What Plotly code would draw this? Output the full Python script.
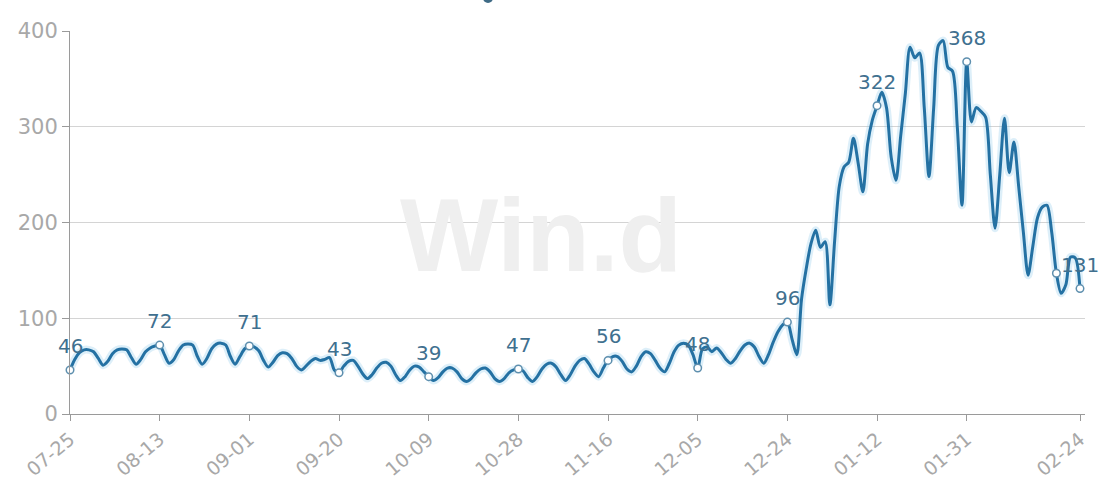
import pandas as pd
import plotly.graph_objects as go

# ---- data ----
dates = list(pd.date_range("2022-07-25", "2023-02-24", freq="D").strftime("%m-%d"))

values = [
    46, 57, 64, 67, 67, 65, 58,
    51, 55, 63, 67, 68, 67, 59,
    52, 57, 65, 69, 71, 72, 62,
    53, 57, 66, 72, 73, 72, 60,
    52, 58, 68, 73, 74, 72, 60,
    52, 60, 68, 71, 70, 66, 56,
    49, 54, 61, 64, 63, 58, 50,
    46, 50, 55, 58, 56, 57, 59,
    46, 43, 50, 55, 56, 50, 42,
    37, 41, 48, 53, 54, 50, 41,
    35, 39, 46, 50, 49, 44, 39,
    35, 38, 44, 48, 48, 44, 37,
    34, 37, 43, 47, 48, 44, 37,
    34, 37, 43, 46, 47, 45, 38,
    34, 39, 47, 52, 53, 49, 41,
    35, 41, 50, 56, 58, 52, 44,
    39, 48, 56, 60, 60, 55, 47,
    44, 50, 60, 65, 63, 56, 48,
    44, 53, 65, 72, 74, 72, 62,
    48, 68, 70, 65, 69, 64, 57,
    53, 58, 66, 72, 74, 70, 60,
    53, 62, 75, 86, 93, 96, 78,
    62, 120, 152, 178, 192, 174, 180,
    114, 180, 238, 258, 263, 288, 262,
    232, 282, 307, 322, 336, 320, 268,
    244, 290, 335, 383, 372, 377, 320,
    248, 320, 385, 390, 362, 358, 300,
    218, 368, 305, 320, 316, 310, 250,
    194, 250, 309, 252, 284, 238, 190,
    145, 175, 205, 216, 218, 190, 147,
    126, 135, 164, 163, 131,
]

tick_labels = ["07-25", "08-13", "09-01", "09-20", "10-09", "10-28",
               "11-16", "12-05", "12-24", "01-12", "01-31", "02-24"]
marked_dates = ["07-25", "08-13", "09-01", "09-20", "10-09", "10-28", "11-16",
                "12-05", "12-24", "01-12", "01-31", "02-19", "02-24"]
marked_labels = ["46", "72", "71", "43", "39", "47", "56",
                 "48", "96", "322", "368", "", "131"]
y_ticks = [0, 100, 200, 300, 400]

value_by_date = dict(zip(dates, values))
marked_values = [value_by_date[d] for d in marked_dates]

LINE = "#2471a3"
LABEL = "#40708f"
FONT = "DejaVu Sans"

fig = go.Figure()
# soft halo under the line
fig.add_trace(go.Scatter(
    x=dates, y=values, mode="lines",
    line=dict(color="rgba(120,190,230,0.25)", width=8, shape="spline", smoothing=0.8),
    hoverinfo="skip", showlegend=False, cliponaxis=False))
fig.add_trace(go.Scatter(
    x=dates, y=values, mode="lines",
    line=dict(color=LINE, width=3, shape="spline", smoothing=0.8),
    showlegend=False, cliponaxis=False))
fig.add_trace(go.Scatter(
    x=marked_dates, y=marked_values, mode="markers",
    marker=dict(symbol="circle", size=7.5, color="white",
                line=dict(color="#5e8fae", width=1.5)),
    showlegend=False, cliponaxis=False))

for d, v, t in zip(marked_dates, marked_values, marked_labels):
    if t:
        fig.add_annotation(x=d, y=v, text=t, showarrow=False, yshift=24,
                           font=dict(family=FONT, size=20, color=LABEL))

# watermark
fig.add_annotation(xref="paper", yref="paper", x=0.464, y=0.467, text="<b>Win.d</b>",
                   showarrow=False, font=dict(family="Liberation Sans", size=104, color="#efefef"))

# partially visible legend icon at the top edge
fig.add_shape(type="circle", xref="paper", yref="paper",
              x0=(483 - 70) / 1015, x1=(493 - 70) / 1015,
              y0=(414 - 3) / 383, y1=(414 + 7) / 383,
              fillcolor="#3f6b86", line=dict(width=0), layer="above")

fig.update_layout(
    width=1102, height=480,
    margin=dict(l=70, r=17, t=31, b=66, autoexpand=False),
    paper_bgcolor="white", plot_bgcolor="white",
    font=dict(family=FONT),
)
fig.update_xaxes(
    type="category", categoryorder="array", categoryarray=dates,
    range=[0, 215.06], automargin=False,
    tickmode="array", tickvals=tick_labels, ticktext=tick_labels,
    tickangle=-40, ticks="outside", ticklen=6, tickcolor="#9a9a9a",
    tickfont=dict(family=FONT, size=19, color="#a8a8a8"),
    showline=True, linecolor="#9a9a9a", linewidth=1,
    showgrid=False, zeroline=False,
)
fig.update_yaxes(
    range=[0, 400], tickmode="array", tickvals=y_ticks, automargin=False,
    ticks="outside", ticklen=7, tickcolor="#9a9a9a",
    tickfont=dict(family=FONT, size=21, color="#a8a8a8"),
    showline=True, linecolor="#9a9a9a", linewidth=1,
    showgrid=True, gridcolor="#d4d4d4", gridwidth=1, zeroline=False,
)

fig.write_html("out.html", config={"displayModeBar": False},
               post_script="document.body.style.margin='0';document.body.style.overflow='hidden';")
